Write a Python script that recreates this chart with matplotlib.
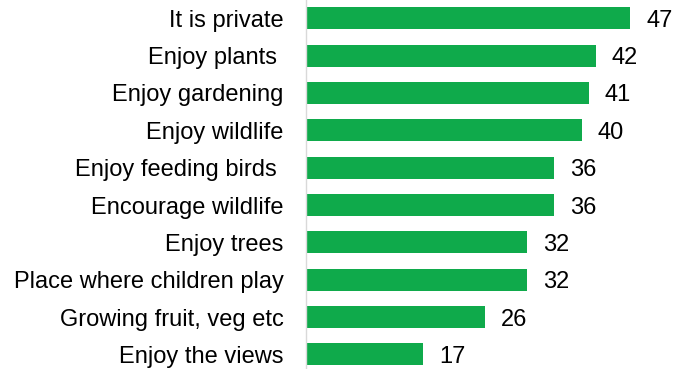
import matplotlib
matplotlib.use("Agg")
import matplotlib.pyplot as plt

plt.rcParams['font.family'] = ['Liberation Sans', 'DejaVu Sans']

categories = [
    "It is private",
    "Enjoy plants ",
    "Enjoy gardening",
    "Enjoy wildlife",
    "Enjoy feeding birds ",
    "Encourage wildlife",
    "Enjoy trees",
    "Place where children play",
    "Growing fruit, veg etc",
    "Enjoy the views",
]
values = [47, 42, 41, 40, 36, 36, 32, 32, 26, 17]

BAR_COLOR = "#0FAA4B"
FONT_SIZE = 17

fig = plt.figure(figsize=(6.93, 3.69), dpi=100)
ax = fig.add_axes([306 / 693, 0.0, 345 / 693, 1.0])

pos = list(range(len(categories)))
ax.barh(pos, values, height=0.59, color=BAR_COLOR, edgecolor="none")

for p, v in zip(pos, values):
    ax.annotate(str(v), xy=(v, p), xytext=(11.5, 0), textcoords="offset points",
                va="center_baseline", ha="left", fontsize=FONT_SIZE, color="#000000")

ax.set_yticks(pos)
ax.set_yticklabels(categories, fontsize=FONT_SIZE, color="#000000")
ax.tick_params(axis="y", length=0, pad=16)
ax.set_xticks([])
ax.set_xlim(0, 50)
ax.set_ylim(9.39, -0.49)

for side in ("top", "right", "bottom"):
    ax.spines[side].set_visible(False)
ax.spines["left"].set_color("#d9d9d9")
ax.spines["left"].set_linewidth(1.0)

fig.savefig("out.png", dpi=100)
